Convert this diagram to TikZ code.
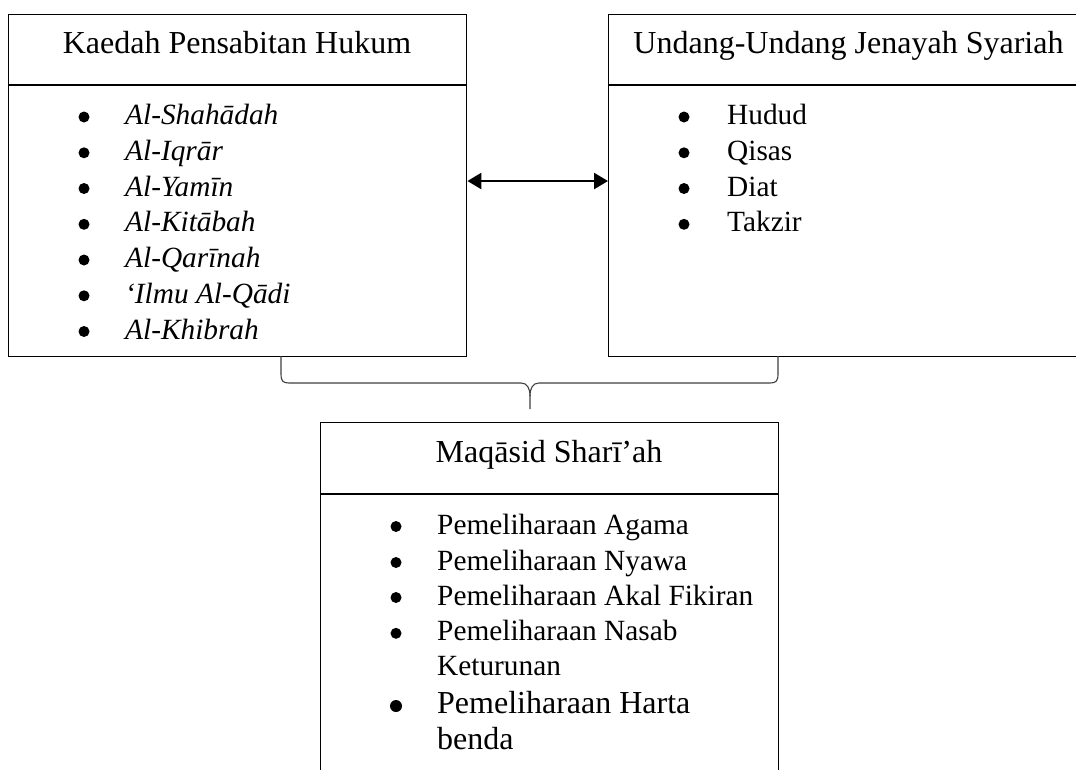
\documentclass[tikz,border=0pt]{standalone}
\usepackage{fontspec}
\setmainfont{Liberation Serif}
\usetikzlibrary{arrows.meta}
\begin{document}
\begin{tikzpicture}[x=1pt,y=-1pt,
  panel/.style={draw, line width=1.4pt, rectangle, inner sep=0pt, anchor=north west},
  divline/.style={line width=1.4pt},
  ttl/.style={anchor=base, font=\fontsize{32}{38}\selectfont, inner sep=0pt},
  itm/.style={anchor=base west, font=\fontsize{29.33}{36}\selectfont, inner sep=0pt},
  iti/.style={anchor=base west, font=\fontsize{29.33}{36}\selectfont\itshape, inner sep=0pt},
  itb/.style={anchor=base west, font=\fontsize{32}{38}\selectfont, inner sep=0pt},
  bul/.style={circle, fill=black, inner sep=0pt, minimum size=11pt},
  bulb/.style={circle, fill=black, inner sep=0pt, minimum size=12pt},
  arr/.style={line width=2.5pt, {Triangle[length=14pt,width=16pt]}-{Triangle[length=14pt,width=16pt]}},
  brc/.style={line width=1.1pt, draw=black!75},
]
\useasboundingbox (0,0) rectangle (1076,769);
\fill[white] (0,0) rectangle (1076,769);

% boxes
\node[panel, minimum width=458pt, minimum height=342pt] (L) at (8,14) {};
\node[panel, minimum width=481pt, minimum height=342pt] (R) at (608,14) {};
\node[panel, minimum width=458pt, minimum height=370pt] (M) at (320,422) {};

\coordinate (yd) at (0,85);
\coordinate (ym) at (0,494);
\draw[divline] (L.west |- yd) -- (L.east |- yd);
\draw[divline] (R.west |- yd) -- (R.east |- yd);
\draw[divline] (M.west |- ym) -- (M.east |- ym);

% titles
\node[ttl] (tL) at (237,53) {Kaedah Pensabitan Hukum};
\node[ttl] (tR) at (848.5,53) {Undang-Undang Jenayah Syariah};
\node[ttl] (tM) at (549,462) {Maqāsid Sharī’ah};

% left list
\node[bul] (lb1) at (84,117.0) {}; \node[iti] (l1) at (125,124.5) {Al-Shahādah};
\node[bul] (lb2) at (84,152.8) {}; \node[iti] (l2) at (125,160.3) {Al-Iqrār};
\node[bul] (lb3) at (84,188.5) {}; \node[iti] (l3) at (125,196.0) {Al-Yamīn};
\node[bul] (lb4) at (84,224.3) {}; \node[iti] (l4) at (125,231.8) {Al-Kitābah};
\node[bul] (lb5) at (84,260.0) {}; \node[iti] (l5) at (125,267.5) {Al-Qarīnah};
\node[bul] (lb6) at (84,295.8) {}; \node[iti] (l6) at (125,303.3) {‘Ilmu Al-Qādi};
\node[bul] (lb7) at (84,331.5) {}; \node[iti] (l7) at (125,339.0) {Al-Khibrah};

% right list
\node[bul] (rb1) at (684,117.0) {}; \node[itm] (r1) at (727,124.5) {Hudud};
\node[bul] (rb2) at (684,152.8) {}; \node[itm] (r2) at (727,160.3) {Qisas};
\node[bul] (rb3) at (684,188.5) {}; \node[itm] (r3) at (727,196.0) {Diat};
\node[bul] (rb4) at (684,224.3) {}; \node[itm] (r4) at (727,231.8) {Takzir};

% lower list
\node[bul] (mb1) at (396,526.5) {}; \node[itm] (m1) at (437,534.0) {Pemeliharaan Agama};
\node[bul] (mb2) at (396,562.5) {}; \node[itm] (m2) at (437,570.0) {Pemeliharaan Nyawa};
\node[bul] (mb3) at (396,597.5) {}; \node[itm] (m3) at (437,605.0) {Pemeliharaan Akal Fikiran};
\node[bul] (mb4) at (396,633.3) {}; \node[itm] (m4) at (437,640.7) {Pemeliharaan Nasab};
\node[itm] (m4b) at (437,675.7) {Keturunan};
\node[bulb] (mb5) at (396,706.0) {}; \node[itb] (m5) at (437,713.0) {Pemeliharaan Harta};
\node[itb] (m5b) at (437,749.0) {benda};

% double arrow
\coordinate (ya) at (0,181);
\draw[arr] (L.east |- ya) -- (R.west |- ya);

% brace
\coordinate (bl) at (281,356);
\coordinate (br) at (778,356);
\coordinate (bt) at (530,409);
\draw[brc] (bl) -- (281,374) .. controls (281,381) and (283,383) .. (289,383) -- (521,383) .. controls (527,383) and (530,388) .. (530,396) -- (bt);
\draw[brc] (br) -- (778,374) .. controls (778,381) and (776,383) .. (770,383) -- (539,383) .. controls (533,383) and (530,388) .. (530,396);
\end{tikzpicture}
\end{document}
